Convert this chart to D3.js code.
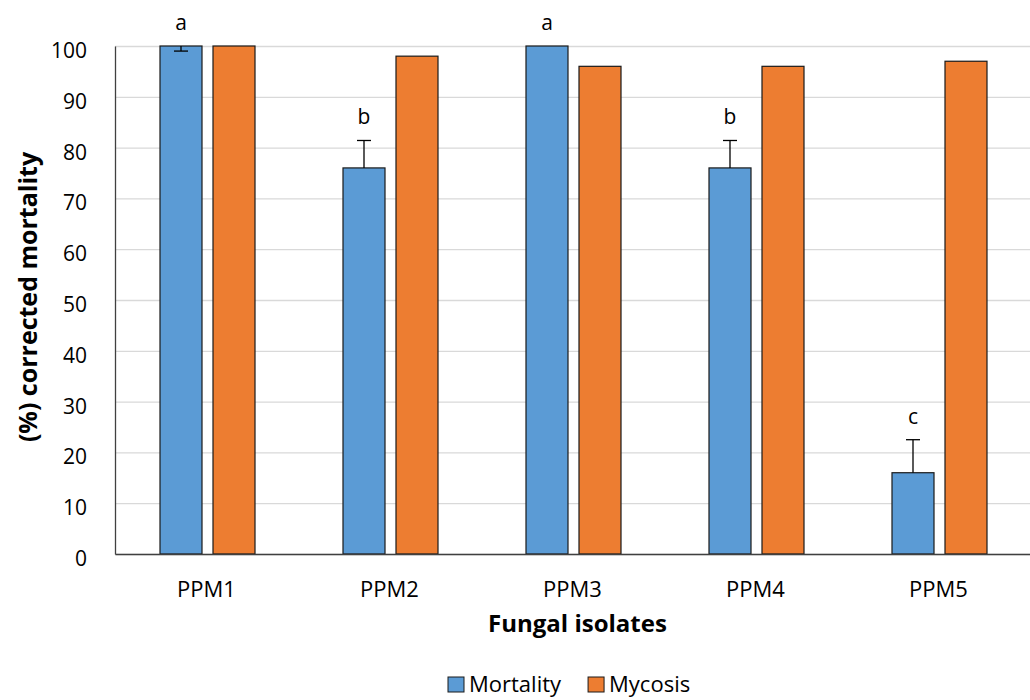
<!DOCTYPE html>
<html>
<head>
<meta charset="utf-8">
<script src="https://cdn.jsdelivr.net/npm/d3@7"></script>
<style>
  html, body { margin: 0; padding: 0; background: #fff; }
  svg { display: block; }
</style>
</head>
<body>
<div id="chart"></div>
<script>
// bar chart — corrected mortality / mycosis per fungal isolate

const CATEGORIES = ['PPM1', 'PPM2', 'PPM3', 'PPM4', 'PPM5'];
const SERIES     = ['Mortality', 'Mycosis'];
const MORTALITY  = [100, 76, 100, 76, 16];
const MYCOSIS    = [100, 98, 96, 96, 97];
// error bar: positive = drawn above, negative = drawn below
const MORT_ERR   = [-1, 5.4, 0, 5.4, 6.5];
const LETTERS    = ['a', 'b', 'a', 'b', 'c'];
const Y_TICKS    = [0, 10, 20, 30, 40, 50, 60, 70, 80, 90, 100];

const COLORS = { Mortality: '#5B9BD5', Mycosis: '#ED7D31' };
const FONT   = "'Open Sans', 'Lato', sans-serif";

const W = 1030, H = 700;
const ml = 115, mr = 0, mt = 46, mb = 146;
const iw = W - ml - mr;
const ih = H - mt - mb;

const svg = d3.select('#chart').append('svg')
  .attr('width', W)
  .attr('height', H)
  .attr('viewBox', `0 0 ${W} ${H}`);

const g = svg.append('g').attr('transform', `translate(${ml},${mt})`);

const x  = d3.scaleBand().domain(CATEGORIES).range([0, iw]).paddingInner(0).paddingOuter(0);
const y  = d3.scaleLinear().domain([0, 100]).range([ih, 0]);
const BAR = 42, GAP = 11;
const xs = d3.scaleOrdinal().domain(SERIES).range([-(BAR + GAP / 2) + 1, GAP / 2 + 1]);

// Grid lines
g.append('g')
  .call(d3.axisLeft(y).tickValues(Y_TICKS).tickSize(-iw).tickFormat(''))
  .call(gc => gc.select('.domain').remove())
  .call(gc => gc.selectAll('.tick line').attr('stroke', '#d9d9d9').attr('stroke-width', 1.3));

// Y tick labels
g.append('g')
  .call(d3.axisLeft(y).tickValues(Y_TICKS).tickSize(0).tickPadding(28))
  .call(gc => gc.select('.domain').attr('stroke', '#404040').attr('stroke-width', 1.3))
  .call(gc => gc.selectAll('.tick text')
    .attr('dy', '0.55em')
    .attr('fill', '#000').attr('font-size', '21px').attr('font-family', FONT));

// Bars
const rows = CATEGORIES.map((c, i) => ({
  cat: c,
  values: [
    { key: 'Mortality', v: MORTALITY[i] },
    { key: 'Mycosis',   v: MYCOSIS[i] }
  ]
}));

const grp = g.selectAll('.grp')
  .data(rows).enter()
  .append('g')
  .attr('transform', d => `translate(${x(d.cat) + x.bandwidth() / 2},0)`);

grp.selectAll('rect')
  .data(d => d.values).enter()
  .append('rect')
  .attr('x', d => xs(d.key))
  .attr('y', d => y(d.v))
  .attr('width', BAR)
  .attr('height', d => ih - y(d.v))
  .attr('fill', d => COLORS[d.key])
  .attr('stroke', '#1a1a1a')
  .attr('stroke-width', 1.2);

// X axis
g.append('g')
  .attr('transform', `translate(0,${ih})`)
  .call(d3.axisBottom(x).tickSize(0).tickPadding(27))
  .call(gc => gc.select('.domain').attr('stroke', '#404040').attr('stroke-width', 1.3))
  .call(gc => gc.selectAll('.tick text')
    .attr('fill', '#000').attr('font-size', '22px').attr('font-family', FONT));

// Error bars + letters on mortality
const errData = CATEGORIES.map((c, i) => ({ cat: c, v: MORTALITY[i], e: MORT_ERR[i], l: LETTERS[i] }));
const eg = g.selectAll('.err')
  .data(errData).enter()
  .append('g')
  .attr('transform', d => `translate(${x(d.cat) + x.bandwidth() / 2 + xs('Mortality') + BAR / 2},0)`);

eg.filter(d => d.e !== 0).append('line')
  .attr('x1', 0).attr('x2', 0)
  .attr('y1', d => y(d.v)).attr('y2', d => y(d.v + d.e))
  .attr('stroke', '#000').attr('stroke-width', 1.3);
eg.filter(d => d.e !== 0).append('line')
  .attr('x1', -7).attr('x2', 7)
  .attr('y1', d => y(d.v + d.e)).attr('y2', d => y(d.v + d.e))
  .attr('stroke', '#000').attr('stroke-width', 1.3);

eg.append('text')
  .attr('x', 0)
  .attr('y', d => y(d.v + Math.max(0, d.e)) - 16)
  .attr('text-anchor', 'middle')
  .attr('font-size', '21px')
  .attr('font-family', FONT)
  .attr('fill', '#000')
  .text(d => d.l);

// Axis titles
svg.append('text')
  .attr('x', ml + iw / 2 + 5).attr('y', 632)
  .attr('text-anchor', 'middle')
  .attr('font-size', '24px').attr('font-weight', 'bold')
  .attr('font-family', FONT)
  .text('Fungal isolates');

svg.append('text')
  .attr('transform', `translate(37,${mt + ih / 2 - 3}) rotate(-90)`)
  .attr('text-anchor', 'middle')
  .attr('font-size', '25px').attr('font-weight', 'bold')
  .attr('font-family', FONT)
  .text('(%) corrected mortality');

// Legend
const leg = svg.append('g').attr('transform', 'translate(448,677)');
let lx = 0;
SERIES.forEach(s => {
  const item = leg.append('g').attr('transform', `translate(${lx},0)`);
  item.append('rect').attr('width', 16).attr('height', 15)
    .attr('fill', COLORS[s]).attr('stroke', '#1a1a1a').attr('stroke-width', 1);
  const t = item.append('text').attr('x', 21).attr('y', 15)
    .attr('font-size', '22px').attr('font-family', FONT).text(s);
  lx += 21 + t.node().getComputedTextLength() + 27;
});
</script>
</body>
</html>
